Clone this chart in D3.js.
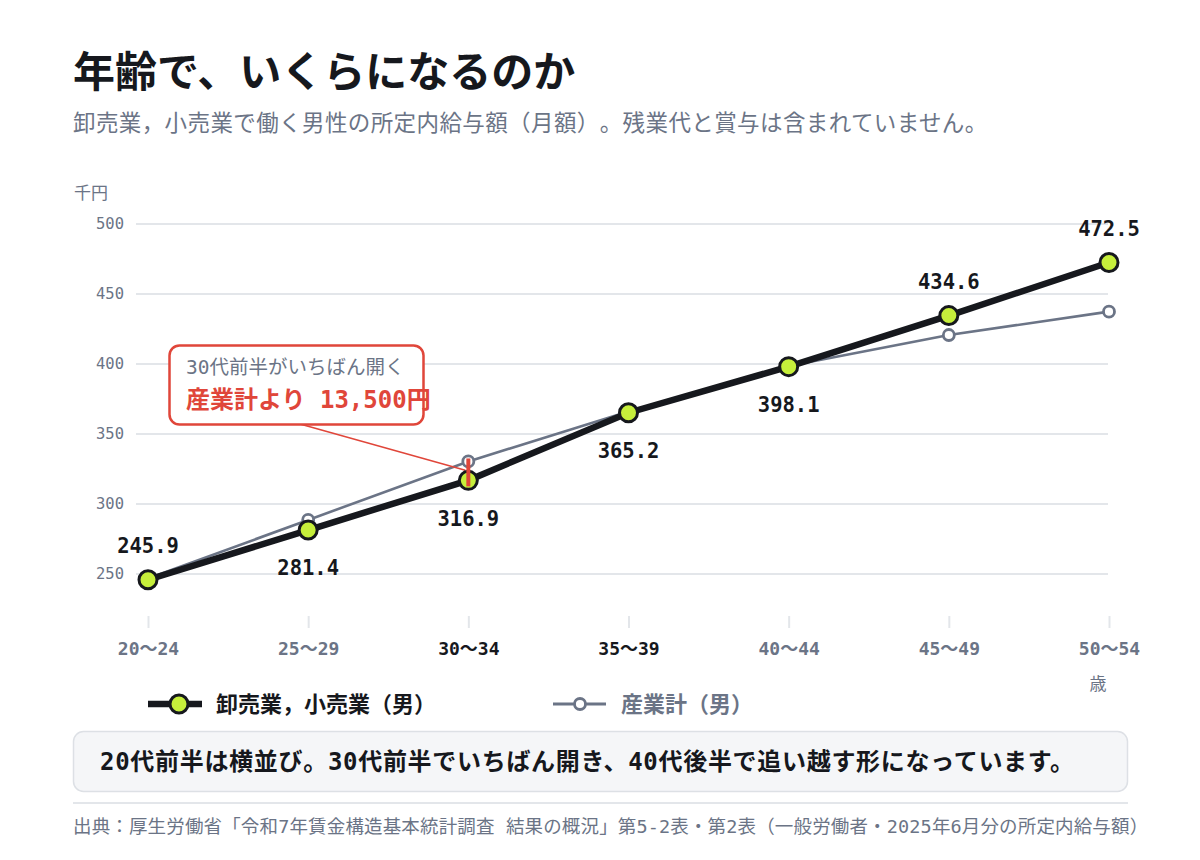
<!DOCTYPE html>
<html><head><meta charset="utf-8">
<script src="https://cdn.jsdelivr.net/npm/d3@7/dist/d3.min.js"></script>
<style>
html,body{margin:0;padding:0;background:#fff;}
svg text{font-family:"DejaVu Sans Mono","Noto Sans CJK JP",monospace;text-spacing-trim:space-all;}
</style></head>
<body>
<svg id="c" width="1200" height="860"></svg>
<script>
const categories = ["20〜24","25〜29","30〜34","35〜39","40〜44","45〜49","50〜54"];
const retail = [245.9, 281.4, 316.9, 365.2, 398.1, 434.6, 472.5];
const allIndustry = [246.8, 288.6, 330.4, 366.0, 398.6, 420.7, 437.4];
const labelPos = ["above","below","below","below","below","above","above"];
const highlightCats = ["30〜34","35〜39"];
const yTicks = [250, 300, 350, 400, 450, 500];

const svg = d3.select("#c");
const x = d3.scalePoint().domain(categories).range([148, 1109]);
const y = d3.scaleLinear().domain([220, 500]).range([616, 224]);

const dark = "#16181d", gray = "#6b7486", red = "#e0463a", lime = "#c6ef3b";
const cjk = "'Noto Sans CJK JP',sans-serif";

// title
svg.append("text").attr("x",73).attr("y",87).attr("font-size",42).attr("font-weight",700)
  .attr("fill",dark).style("font-family",cjk).text("年齢で、いくらになるのか");
svg.append("text").attr("x",73).attr("y",131).attr("font-size",22.5).attr("letter-spacing",0.4).attr("fill","#6b7486")
  .text("卸売業，小売業で働く男性の所定内給与額（月額）。残業代と賞与は含まれていません。");

// y unit
svg.append("text").attr("x",74).attr("y",199).attr("font-size",17).attr("fill",gray).text("千円");

// grid
const g = svg.append("g");
g.selectAll("line.grid").data(yTicks).join("line").attr("class","grid")
  .attr("x1",136).attr("x2",1108).attr("y1",d=>y(d)).attr("y2",d=>y(d))
  .attr("stroke","#e3e6ea").attr("stroke-width",2);
g.selectAll("text.yt").data(yTicks).join("text").attr("class","yt")
  .attr("x",124).attr("y",d=>y(d)).attr("dy","0.35em").attr("text-anchor","end")
  .attr("font-size",15.5).attr("fill",gray).text(d=>d);

// x axis
const xa = svg.append("g").attr("transform","translate(0,616)")
  .call(d3.axisBottom(x).tickSize(12).tickPadding(14));
xa.select(".domain").remove();
xa.selectAll(".tick line").attr("stroke","#e3e6ea").attr("stroke-width",2);
xa.selectAll(".tick text").attr("font-size",18).attr("font-weight",700)
  .style("font-family","'DejaVu Sans Mono','Noto Sans CJK JP',monospace")
  .attr("fill",d=>highlightCats.includes(d)?dark:gray);
svg.append("text").attr("x",1098).attr("y",690).attr("text-anchor","middle").attr("font-size",17)
  .attr("fill",gray).text("歳");

// lines
const line = d3.line();
const ptsR = categories.map((c,i)=>[x(c), y(retail[i])]);
const ptsA = categories.map((c,i)=>[x(c), y(allIndustry[i])]);
svg.append("path").attr("d",line(ptsA)).attr("fill","none").attr("stroke",gray).attr("stroke-width",2.6);
svg.selectAll("circle.a").data(ptsA).join("circle").attr("class","a")
  .attr("cx",d=>d[0]).attr("cy",d=>d[1]).attr("r",5.5).attr("fill","#fff").attr("stroke",gray).attr("stroke-width",2.8);
svg.append("path").attr("d",line(ptsR)).attr("fill","none").attr("stroke",dark).attr("stroke-width",6.5);

// annotation
const ai = 2;
const ax = x(categories[ai]);
svg.append("line").attr("x1",300).attr("y1",424).attr("x2",ax-3).attr("y2",y(retail[ai])-10)
  .attr("stroke",red).attr("stroke-width",1.5);

svg.selectAll("circle.r").data(ptsR).join("circle").attr("class","r")
  .attr("cx",d=>d[0]).attr("cy",d=>d[1]).attr("r",9).attr("fill",lime).attr("stroke",dark).attr("stroke-width",3);

svg.append("line").attr("x1",ax).attr("x2",ax).attr("y1",y(allIndustry[ai])-3).attr("y2",y(retail[ai])+6)
  .attr("stroke",red).attr("stroke-width",4);

svg.append("rect").attr("x",169.5).attr("y",345.5).attr("width",254).attr("height",79).attr("rx",10)
  .attr("fill","#fff").attr("stroke",red).attr("stroke-width",2.5);
svg.append("text").attr("x",186).attr("y",374).attr("font-size",19.5).attr("fill",gray).text("30代前半がいちばん開く");
const diff = Math.round((allIndustry[ai]-retail[ai])*1000);
svg.append("text").attr("x",186).attr("y",408).attr("font-size",24).attr("font-weight",700).attr("fill",red)
  .text("産業計より " + d3.format(",")(diff) + "円");

// data labels
svg.selectAll("text.dl").data(retail).join("text").attr("class","dl")
  .attr("x",(d,i)=>x(categories[i])).attr("y",(d,i)=>y(d) + (labelPos[i]==="above"?-34:38))
  .attr("dy","0.35em").attr("text-anchor","middle").attr("font-size",20.5).attr("font-weight",700)
  .attr("fill",dark).text(d=>d.toFixed(1));

// legend
const lg = svg.append("g");
lg.append("line").attr("x1",148).attr("x2",202).attr("y1",704).attr("y2",704).attr("stroke",dark).attr("stroke-width",6.5);
lg.append("circle").attr("cx",179).attr("cy",704).attr("r",9).attr("fill",lime).attr("stroke",dark).attr("stroke-width",3);
lg.append("text").attr("x",216).attr("y",704).attr("dy","0.35em").attr("font-size",22).attr("font-weight",700)
  .attr("fill",dark).text("卸売業，小売業（男）");
lg.append("line").attr("x1",553).attr("x2",606).attr("y1",704).attr("y2",704).attr("stroke",gray).attr("stroke-width",3);
lg.append("circle").attr("cx",580).attr("cy",704).attr("r",5.5).attr("fill","#fff").attr("stroke",gray).attr("stroke-width",2.8);
lg.append("text").attr("x",621).attr("y",704).attr("dy","0.35em").attr("font-size",22).attr("font-weight",700)
  .attr("fill",gray).text("産業計（男）");

// note box
svg.append("rect").attr("x",73.5).attr("y",731.5).attr("width",1054).attr("height",60).attr("rx",10)
  .attr("fill","#f5f6f8").attr("stroke","#dde0e5").attr("stroke-width",1.5);
svg.append("text").attr("x",100).attr("y",762).attr("dy","0.35em").attr("font-size",24).attr("font-weight",700)
  .attr("letter-spacing",0.7).attr("fill",dark)
  .text("20代前半は横並び。30代前半でいちばん開き、40代後半で追い越す形になっています。");

svg.append("line").attr("x1",73).attr("x2",1128).attr("y1",803).attr("y2",803).attr("stroke","#e3e6ea").attr("stroke-width",2);
svg.append("text").attr("x",73).attr("y",827).attr("dy","0.35em").attr("font-size",18.5).attr("letter-spacing",0.15).attr("fill",gray)
  .text("出典：厚生労働省「令和7年賃金構造基本統計調査 結果の概況」第5-2表・第2表（一般労働者・2025年6月分の所定内給与額）");
</script>
</body></html>
